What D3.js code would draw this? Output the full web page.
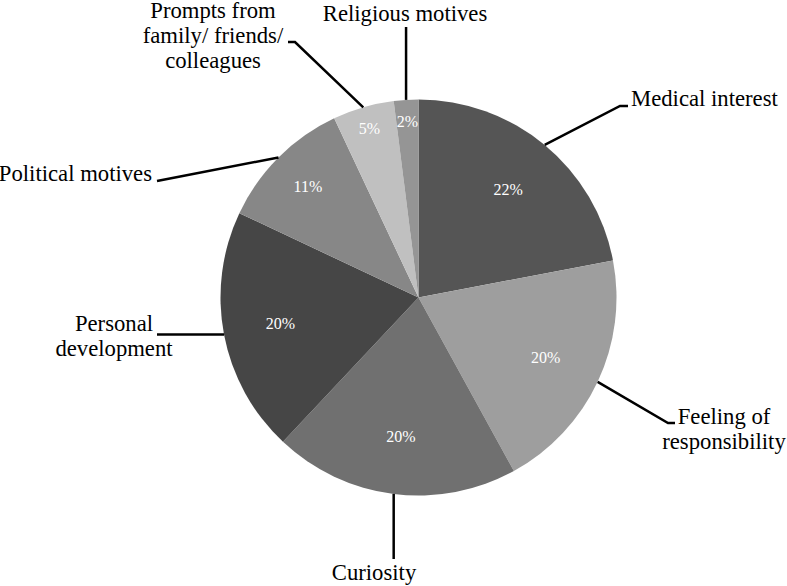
<!DOCTYPE html>
<html>
<head><meta charset="utf8" /><script src="https://cdn.jsdelivr.net/npm/d3@7"></script></head>
<body style="margin:0">
<script>
var w = 787;
var h = 586;
var fontName = "serif";

// data
var categories = ["Medical interest", "Feeling of responsibility", "Curiosity",
  "Personal development", "Political motives",
  "Prompts from family/ friends/ colleagues", "Religious motives"];
var values = [22, 20, 20, 20, 11, 5, 2];
var percentLabels = ["22%", "20%", "20%", "20%", "11%", "5%", "2%"];
var sliceColors = ["#555555", "#9e9e9e", "#707070", "#464646", "#878787", "#c0c0c0", "#959595"];

// how the outer labels are broken into lines
var labelLines = [
  ["Medical interest"],
  ["Feeling of", "responsibility"],
  ["Curiosity"],
  ["Personal", "development"],
  ["Political motives"],
  ["Prompts from", "family/ friends/", "colleagues"],
  ["Religious motives"]
];

// leader line elbows and text anchors (layout only)
var labelLayout = [
  { elbow: [[620, 106], [628, 106]], tx: 631, ty: 106, anchor: "start" },
  { elbow: [[668, 423], [675, 423]], tx: 724, ty: 423.5, anchor: "middle" },
  { elbow: "vertical", endY: 559, tx: 374, ty: 580, anchor: "middle" },
  { elbow: "horizontal", endX: 157, tx: 114, ty: 331, anchor: "middle" },
  { elbow: [[157, 181]], tx: 152, ty: 180.5, anchor: "end" },
  { elbow: [[295, 42], [288, 42]], tx: 213, ty: 18, anchor: "middle" },
  { elbow: "vertical", endY: 27, tx: 405, ty: 20.7, anchor: "middle" }
];

var cx = 418.5, cy = 297.5, r = 198;
var lineGap = 25;

var svg = d3.select("body").append("svg").attr("width", w).attr("height", h);

var pie = d3.pie().sort(null).value(function(d) { return d; });
var arcs = pie(values);
var arc = d3.arc().innerRadius(0).outerRadius(r);

svg.selectAll("path.slice")
  .data(arcs)
  .enter()
  .append("path")
  .attr("class", "slice")
  .attr("transform", "translate(" + cx + "," + cy + ")")
  .attr("d", arc)
  .attr("fill", function(d, i) { return sliceColors[i]; });

// leader lines from the middle of each slice's rim
var edgePoint = function(d) {
  var a = (d.startAngle + d.endAngle) / 2;
  return [cx + r * Math.sin(a), cy - r * Math.cos(a)];
};
var line = d3.line();
svg.selectAll("path.leader")
  .data(arcs)
  .enter()
  .append("path")
  .attr("class", "leader")
  .attr("d", function(d, i) {
    var p = edgePoint(d);
    var L = labelLayout[i];
    var pts;
    if (L.elbow === "vertical") pts = [p, [p[0], L.endY]];
    else if (L.elbow === "horizontal") pts = [p, [L.endX, p[1]]];
    else pts = [p].concat(L.elbow);
    return line(pts);
  })
  .attr("fill", "none")
  .attr("stroke", "#000")
  .attr("stroke-width", 2.5);

// percent labels, small slices pushed outward
var labelRadius = function(v) {
  if (v >= 15) return 0.71 * r;
  if (v >= 10) return 0.79 * r;
  return 0.89 * r;
};
arcs.forEach(function(d, i) {
  var lr = labelRadius(d.data);
  var c = d3.arc().innerRadius(lr).outerRadius(lr).centroid(d);
  svg.append("text")
    .attr("font-family", fontName)
    .attr("font-size", "16px")
    .attr("text-anchor", "middle")
    .attr("fill", "white")
    .attr("x", cx + c[0])
    .attr("y", cy + c[1] + 5.5)
    .text(percentLabels[i]);
});

// outer category labels
categories.forEach(function(name, i) {
  var L = labelLayout[i];
  var tx = svg.append("text")
    .attr("font-family", fontName)
    .attr("font-size", "22.7px")
    .attr("text-anchor", L.anchor);
  labelLines[i].forEach(function(s, j) {
    tx.append("tspan").attr("x", L.tx).attr("y", L.ty + j * lineGap).text(s);
  });
});
</script>
</body>
</html>
